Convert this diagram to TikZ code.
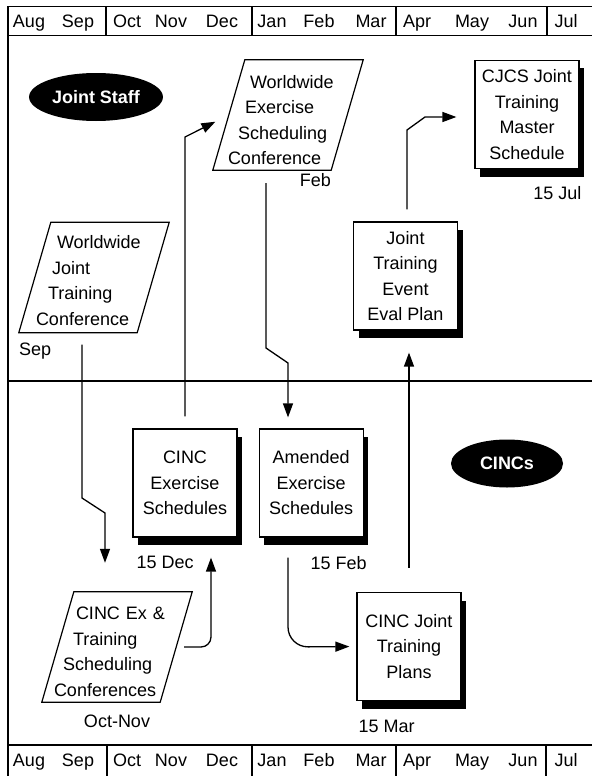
\documentclass[tikz,border=0pt]{standalone}
\usepackage{fontspec}
\setmainfont{Liberation Sans}
\usetikzlibrary{arrows.meta,positioning,shapes.geometric,shadows}
\begin{document}
\begin{tikzpicture}[x=1pt,y=-1pt,font=\fontsize{18}{25.5}\selectfont]
    \tikzstyle{arrow} = [line width=1.3pt, -{Triangle[length=14pt,width=10pt]}]
    \tikzstyle{box} = [rectangle, minimum width=104pt, minimum height=108pt, inner sep=0pt, align=center, draw=black, line width=1.2pt, fill=white, drop shadow={shadow xshift=5pt, shadow yshift=-8pt, fill=black, opacity=1}]
    \tikzstyle{para} = [rectangle, minimum width=118pt, minimum height=110pt, inner sep=0pt]
    \tikzstyle{paratext} = [inner sep=0pt, align=left]
    \tikzstyle{tag} = [ellipse, fill=black, text=white, font=\fontsize{18}{22}\selectfont\bfseries, minimum width=112pt, minimum height=48pt]
    \tikzstyle{date} = [inner sep=0pt]
    \tikzstyle{frame} = [line width=1.2pt]
    \useasboundingbox (0,0) rectangle (592,776);

    \draw[frame] (8,6.5) -- (592,6.5);
    \draw[frame] (8,35.5) -- (592,35.5);
    \draw[frame] (8,381) -- (592,381);
    \draw[frame] (8,745) -- (592,745);
    \draw[frame] (8,6.5) -- (8,776);
    \foreach \x in {106,252,396,547} \draw[frame] (\x,6.5) -- (\x,35.5);
    \foreach \x in {107,252,396,546} \draw[frame] (\x,745) -- (\x,776);
    \foreach \m/\x in {Aug/29,Sep/78,Oct/127,Nov/171,Dec/222,Jan/272,Feb/319,Mar/371,Apr/417,May/472,Jun/523,Jul/566} {
        \node[anchor=base, inner sep=0pt] (top\m) at (\x,28) {\m};
        \node[anchor=base, inner sep=0pt] (bot\m) at (\x,766.5) {\m};
    }

    \node[tag](JS) at (96,97){Joint Staff};
    \node[tag](CI) at (507,463.5){CINCs};

    \node[para](WJ) at (94,277.5){};
    \node[paratext, text width=116pt, yshift=-3pt](WJt) at (WJ){\hspace*{21pt}Worldwide\\\hspace*{16pt}Joint\\\hspace*{12pt}Training\\Conference};
    \node[para](WE) at (288,115){};
    \node[paratext, text width=120pt, yshift=-5pt](WEt) at (WE){\hspace*{22pt}Worldwide\\\hspace*{17pt}Exercise\\\hspace*{10pt}Scheduling\\Conference};
    \node[para](CE) at (117,647){};
    \node[paratext, text width=126pt, yshift=-5pt](CEt) at (CE){\hspace*{22pt}CINC Ex \&\\\hspace*{19pt}Training\\\hspace*{9pt}Scheduling\\Conferences};
    \foreach \n in {WJ,WE,CE}
        \draw[frame] ([xshift=-16pt]\n.south west) -- ([xshift=-16pt]\n.south east) -- ([xshift=16pt]\n.north east) -- ([xshift=16pt]\n.north west) -- cycle;

    \node[box](CS) at (185,483){CINC\\Exercise\\Schedules};
    \node[box, right=21pt of CS](AS){Amended\\Exercise\\Schedules};
    \node[box](EP) at (405.5,276){Joint\\Training\\Event\\Eval Plan};
    \node[box](MS) at (527,114.5){CJCS Joint\\Training\\Master\\Schedule};
    \node[box](JP) at (409,646.5){CINC Joint\\Training\\Plans};

    \node[date, anchor=north west](text1) at ([xshift=-16pt,yshift=-10pt]WJ.south west){Sep};
    \node[date, anchor=north east](text2) at ([xshift=-16pt,yshift=-3.5pt]WE.south east){Feb};
    \node[date, anchor=north west](text3) at ([xshift=4pt,yshift=-18pt]CS.south west){15 Dec};
    \node[date, anchor=north east](text4) at ([xshift=3pt,yshift=-19pt]AS.south east){15 Feb};
    \node[date, anchor=north](text5) at ([yshift=-13pt]CE.south){Oct-Nov};
    \node[date, anchor=north west](text6) at ([xshift=2pt,yshift=-19pt]JP.south west){15 Mar};
    \node[date, anchor=north east](text7) at ([xshift=2pt,yshift=-17pt]MS.south east){15 Jul};

    \coordinate (p1) at (82,498);
    \coordinate (p2) at (105,513);
    \coordinate (p3) at (211,647);
    \coordinate (p4) at (185,137);
    \coordinate (p5) at (266,348);
    \coordinate (p6) at (288,363);
    \coordinate (p7) at (288,647);
    \coordinate (p8) at (407,130);
    \coordinate (p9) at (425,117);

    \draw[arrow, shorten <=12pt, shorten >=29pt] (WJ.south -| p1) -- (p1) -- (p2) -- (CE.north -| p2);
    \draw[arrow, rounded corners=10pt, shorten <=8pt, shorten >=20pt] (CE.east) -- (p3) -- (CS.south -| p3);
    \draw[arrow, shorten <=12pt, shorten >=15pt] (CS.north) -- (p4) -- (WE.west);
    \draw[arrow, shorten <=13pt, shorten >=11pt] (WE.south -| p5) -- (p5) -- (p6) -- (AS.north -| p6);
    \draw[arrow, rounded corners=20pt, shorten <=20pt, shorten >=7pt] (AS.south -| p7) -- (p7) -- (JP.west);
    \draw[arrow, shorten <=24pt, shorten >=22pt] (JP.north) -- (EP.south -| JP.north);
    \draw[arrow, shorten <=12pt, shorten >=18pt] (EP.north -| p8) -- (p8) -- (p9) -- (MS.west |- p9);
\end{tikzpicture}
\end{document}
